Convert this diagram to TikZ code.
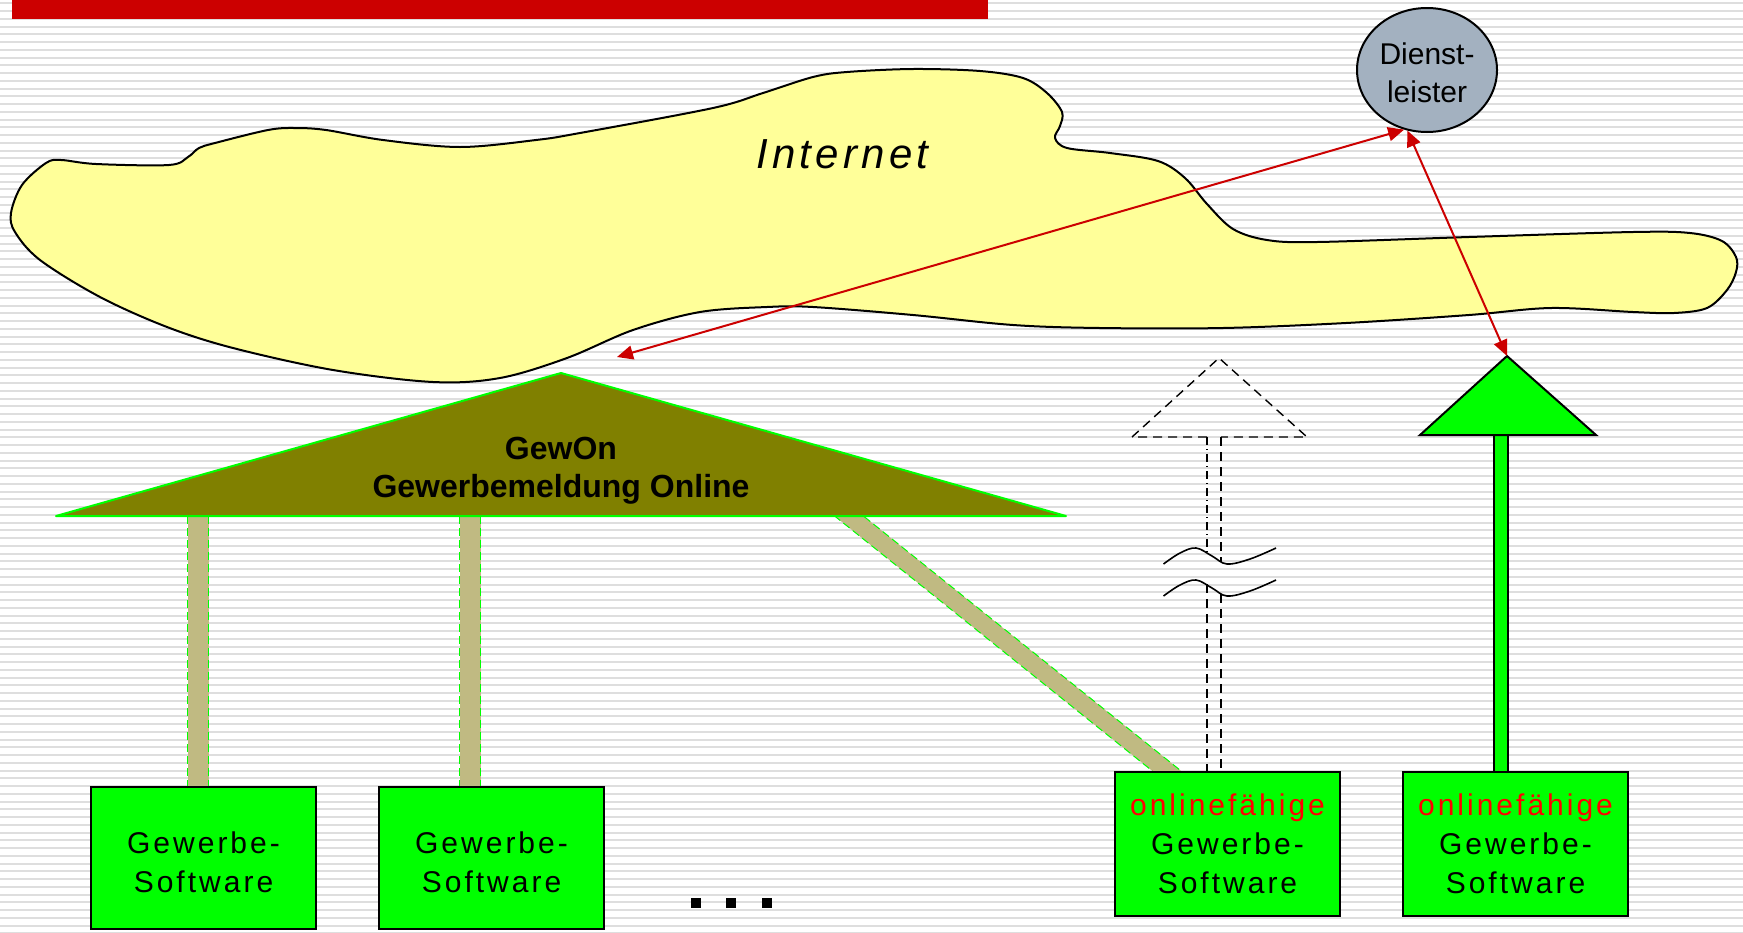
\documentclass[tikz,border=0pt]{standalone}
\usepackage{fontspec}
\setmainfont{Liberation Sans}
\newfontfamily\lsf{Liberation Sans}[LetterSpace=10]
\usetikzlibrary{arrows.meta,shapes.geometric,calc}
\definecolor{cloudyellow}{RGB}{255,255,153}
\definecolor{olivebrown}{RGB}{128,128,0}
\definecolor{bandtan}{RGB}{192,186,130}
\definecolor{brightgreen}{RGB}{0,255,0}
\definecolor{arrowred}{RGB}{204,0,0}
\definecolor{barred}{RGB}{204,0,0}
\definecolor{stripegray}{RGB}{222,222,222}
\definecolor{servgray}{RGB}{163,177,192}
\newcommand\gbband[3]{%
  \draw[bandcore,line width=#1pt,shorten <=-6pt,shorten >=-6pt] (#2) -- (#3);
  \draw[bandedge,shorten <=-6pt,shorten >=-6pt] ($(#2)!#1pt/2!90:(#3)$) -- ($(#3)!#1pt/2!-90:(#2)$);
  \draw[bandedge,shorten <=-6pt,shorten >=-6pt] ($(#2)!#1pt/2!-90:(#3)$) -- ($(#3)!#1pt/2!90:(#2)$);
}
\newcommand\topstrut{\rule{0pt}{1.02em}}
\begin{document}
\begin{tikzpicture}[x=0.5pt,y=-0.5pt,
  stripe/.style={draw=stripegray,line width=1pt},
  swbox/.style={draw=black,line width=1pt,fill=brightgreen,minimum width=112.5pt,inner sep=0pt,align=center,font=\lsf\fontsize{15}{19.5}\selectfont},
  redarrow/.style={draw=arrowred,line width=1pt,{Triangle[length=8pt,width=7pt]}-{Triangle[length=8pt,width=7pt]}},
  bandcore/.style={draw=bandtan},
  bandedge/.style={draw=brightgreen,line width=0.5pt,dash pattern=on 4pt off 2pt},
  dashline/.style={draw=black,line width=0.7pt,dash pattern=on 4.5pt off 3pt},
  dashdotline/.style={draw=black,line width=0.7pt,dash pattern=on 4pt off 2pt on 0.5pt off 2pt},
  waveline/.style={draw=black,line width=0.8pt},
  cloudshape/.style={draw=black,line width=1pt,fill=cloudyellow},
]
\useasboundingbox (0,0) rectangle (1743,932);
\fill[white] (0,0) rectangle (1743,932);
\foreach \k in {-3,...,117} \draw[stripe] (0,{26.7+7.75*\k}) -- (1743,{26.7+7.75*\k});
\fill[barred] (12,0) rectangle (988,19);

% Internet cloud
\draw[cloudshape] plot[smooth cycle, tension=0.55] coordinates {
 (11,213) (22,185) (46,163) (61,160) (96,164) (169,165) (188,157) (199,148) (215,143)
 (268,130) (295,128) (326,130) (383,140) (460,147) (536,140) (580,133) (713,108)
 (763,93) (813,77) (847,72) (913,69) (980,71) (1023,78) (1047,93) (1062,112)
 (1060,126) (1055,138) (1067,148) (1110,153) (1158,161) (1185,178) (1207,204)
 (1233,229) (1267,240) (1317,242) (1469,237) (1633,232) (1690,233) (1722,241)
 (1736,257) (1736,272) (1727,290) (1707,308) (1674,313) (1633,312) (1551,308)
 (1469,315) (1346,323) (1223,328) (1100,328) (1013,325) (913,315) (813,307)
 (767,307) (700,312) (633,330) (567,358) (500,378) (433,382) (333,370) (233,348)
 (167,327) (100,297) (40,260) (15,232)};
\node[font=\lsf\itshape\fontsize{21}{25}\selectfont,anchor=base,inner sep=0pt] (inet) at (842.5,168) {Internet};

% GewOn triangle geometry
\coordinate (gA) at (561,373);
\coordinate (gL) at (56,516);
\coordinate (gR) at (1066,516);
\coordinate (t1) at (198,516);
\coordinate (t2) at (470,516);
\coordinate (t3) at (849,516);
\coordinate (b1) at (198,787);
\coordinate (b2) at (470,787);
\coordinate (b3) at (1168,772);

% bands
\gbband{10.5}{t1}{b1}
\gbband{10.5}{t2}{b2}
\gbband{9}{t3}{b3}

\draw[fill=olivebrown,draw=brightgreen,line width=1pt,line join=round] (gL) -- (gA) -- (gR) -- cycle;
\node[font=\bfseries\fontsize{16}{19}\selectfont,align=center] (gewon) at (561,471) {GewOn\\Gewerbemeldung Online};

% green arrow stem (drawn before box)
\coordinate (gtop) at (1507,356);
\coordinate (gbl) at (1420,435);
\coordinate (gbr) at (1596,435);
\coordinate (gstem) at (1501,435);
\coordinate (gfoot) at (1501,772);
\draw[black,line width=1pt,double=brightgreen,double distance=6pt] (gfoot) -- (gstem);

% dashed outline arrow
\coordinate (dA) at (1219,358);
\coordinate (dL) at (1132,437);
\coordinate (dR) at (1307,437);
\coordinate (dsl) at (1207,437);
\coordinate (dsr) at (1221,437);
\coordinate (w1l) at (1207,552);
\coordinate (w1r) at (1221,562);
\coordinate (w2l) at (1207,584);
\coordinate (w2r) at (1221,594);
\coordinate (fl) at (1207,772);
\coordinate (fr) at (1221,772);
\draw[dashline] (dsl) -- (dL) -- (dA) -- (dR) -- (dsr);
\draw[dashdotline] (dsl) -- (w1l);
\draw[dashline] (dsr) -- (w1r);
\draw[dashline] (w2l) -- (fl);
\draw[dashline] (w2r) -- (fr);
\draw[waveline] plot[smooth,tension=0.6] coordinates {(1163.5,564) (1180,553) (1196,548) (1212,556) (1227,564) (1250,559) (1276,548)};
\draw[waveline] plot[smooth,tension=0.6] coordinates {(1163.5,596) (1180,585) (1196,580) (1212,588) (1227,596) (1250,591) (1276,580)};

% boxes
\node[swbox,minimum height=71pt] (box1) at (203.5,858) {\topstrut Gewerbe-\\Software};
\node[swbox,minimum height=71pt] (box2) at (491.5,858) {\topstrut Gewerbe-\\Software};
\node[swbox,minimum height=72pt] (box3) at (1227.5,844) {\textcolor{red}{onlinefähige}\\Gewerbe-\\Software};
\node[swbox,minimum height=72pt] (box4) at (1515.5,844) {\textcolor{red}{onlinefähige}\\Gewerbe-\\Software};

% green arrow head
\draw[fill=brightgreen,draw=black,line width=1pt,line join=miter] (gbl) -- (gtop) -- (gbr) -- cycle;

% service provider
\node[ellipse,draw=black,line width=1pt,fill=servgray,minimum width=70pt,minimum height=62pt,inner sep=0pt,align=center,font=\fontsize{15}{19}\selectfont] (dienst) at (1427,70) {\rule{0pt}{0.9em}Dienst-\\leister};

% red arrows
\coordinate (a1) at (617,357);
\draw[redarrow] (a1) -- (dienst.249);
\draw[redarrow] (dienst.252) -- (gtop);

% dots
\foreach \x in {696,731,767} \fill[black] (\x-5,898) rectangle (\x+5,908);
\end{tikzpicture}
\end{document}
